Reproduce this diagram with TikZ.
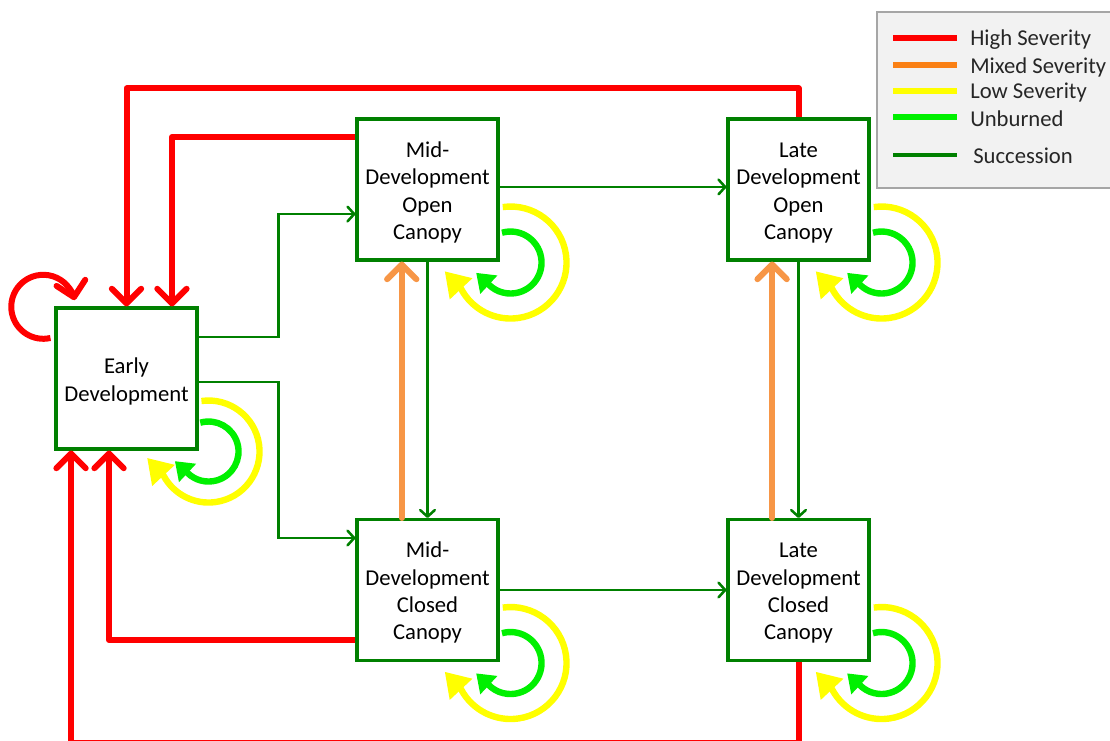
\documentclass[tikz,border=0pt]{standalone}
\usepackage{fontspec}
\setmainfont{Carlito}
\usetikzlibrary{arrows.meta}
\definecolor{succ}{RGB}{0,128,0}
\definecolor{hi}{RGB}{255,0,0}
\definecolor{mixleg}{RGB}{250,128,20}
\definecolor{mix}{RGB}{247,150,70}
\definecolor{low}{RGB}{255,255,0}
\definecolor{unb}{RGB}{0,240,0}
\newcommand\tstrut{\rule{0pt}{16pt}}
\newcommand\fireloop[4]{% node, yellow radius, green radius, x offset
  \draw[lowloop] ([shift={(#4,-1)}]#1.south east) ++(98:#2)
     arc[start angle=98, end angle=-152, radius=#2] -- ++(133:24);
  \draw[unbloop] ([shift={(#4,-1)}]#1.south east) ++(106:#3)
     arc[start angle=106, end angle=-135, radius=#3] -- ++(137:17);
}
\begin{document}
\begin{tikzpicture}[x=0.75pt,y=0.75pt,
  state/.style={draw=succ, line width=2.3pt, fill=white, minimum width=105.75pt,
    minimum height=105.75pt, inner sep=0pt, align=center,
    font=\fontsize{17}{20.5}\selectfont},
  succline/.style={draw=succ, line width=1.9pt,
    -{Straight Barb[length=5pt,width=11pt,line cap=round,line join=round]}},
  high/.style={draw=hi, line width=4.5pt, line join=round,
    -{Straight Barb[length=11pt,width=22pt,line cap=round,line join=round]}},
  mixed/.style={draw=mix, line width=4.5pt, line cap=round,
    -{Straight Barb[length=11pt,width=22pt,line cap=round,line join=round]}},
  lowloop/.style={draw=low, line width=4.8pt,
    -{Triangle[length=18pt,width=22pt]}},
  unbloop/.style={draw=unb, line width=4.8pt,
    -{Triangle[length=13pt,width=18pt]}},
  legtext/.style={anchor=west, inner sep=0pt, text=black!85,
    font=\fontsize{17}{20}\selectfont},
  legline/.style={line width=4.5pt}
]
\useasboundingbox (0,0) rectangle (1110,740);
\clip (0,0) rectangle (1110,740);

% states
\node[state] (early) at (126.5,361.5) {\tstrut Early\\Development};
\node[state] (midopen) at (427.5,550.5) {\tstrut Mid-\\Development\\Open\\Canopy};
\node[state] (lateopen) at (798.5,550.5) {\tstrut Late\\Development\\Open\\Canopy};
\node[state] (midclosed) at (427.5,150) {\tstrut Mid-\\Development\\Closed\\Canopy};
\node[state] (lateclosed) at (798.5,150) {\tstrut Late\\Development\\Closed\\Canopy};

% succession
\draw[succline] ([yshift=31pt]early.east) -- ++(80,0) |- ([yshift=-18.4pt]midopen.west);
\draw[succline] ([yshift=-2.6pt]early.east) -- ++(80,0) |- ([yshift=39pt]midclosed.west);
\draw[succline] ([yshift=1.9pt]midopen.east) -- ([yshift=1.9pt]lateopen.west);
\draw[succline] (midclosed.east) -- (lateclosed.west);
\draw[succline] (midopen.south) -- (midclosed.north);
\draw[succline] (lateopen.south) -- (lateclosed.north);

% mixed severity
\draw[mixed] ([xshift=-19.3pt]midclosed.north) -- ([xshift=-19.3pt]midopen.south);
\draw[mixed] ([xshift=-19.8pt]lateclosed.north) -- ([xshift=-19.8pt]lateopen.south);

% high severity
\draw[high] (lateopen.north) -- ++(0,29) -| (early.north);
\draw[high] ([yshift=39.4pt]midopen.west) -| ([xshift=34.1pt]early.north);
\draw[high] ([yshift=-37.5pt]midclosed.west) -| ([xshift=-13.1pt]early.south);
\draw[high] (lateclosed.south) -- ++(0,-81) -| ([xshift=-41.6pt]early.south);
\draw[high] ([xshift=-3pt,yshift=30.4pt]early.west)
   arc[start angle=-77, end angle=-348, radius=32];

% low severity / unburned loops
\fireloop{early}{51}{30}{10}
\fireloop{midopen}{56}{31}{11}
\fireloop{lateopen}{56}{31}{11}
\fireloop{midclosed}{56}{31}{11}
\fireloop{lateclosed}{56}{31}{11}

% legend
\draw[draw=black!35, fill=black!5, line width=0.9pt] (877,552) rectangle (1125,728);
\draw[legline, draw=hi] (893,702) -- (957,702);
\node[legtext] (lhigh) at (970,700) {High Severity};
\draw[legline, draw=mixleg] (893,675) -- (957,675);
\node[legtext] (lmix) at (970,673) {Mixed Severity};
\draw[legline, draw=low] (893,649) -- (957,649);
\node[legtext] (llow) at (970,647) {Low Severity};
\draw[legline, draw=unb] (893,623) -- (957,623);
\node[legtext] (lunb) at (970,621) {Unburned};
\draw[line width=3pt, draw=succ] (893,585) -- (957,585);
\node[legtext] (lsucc) at (973,584) {Succession};
\end{tikzpicture}
\end{document}
